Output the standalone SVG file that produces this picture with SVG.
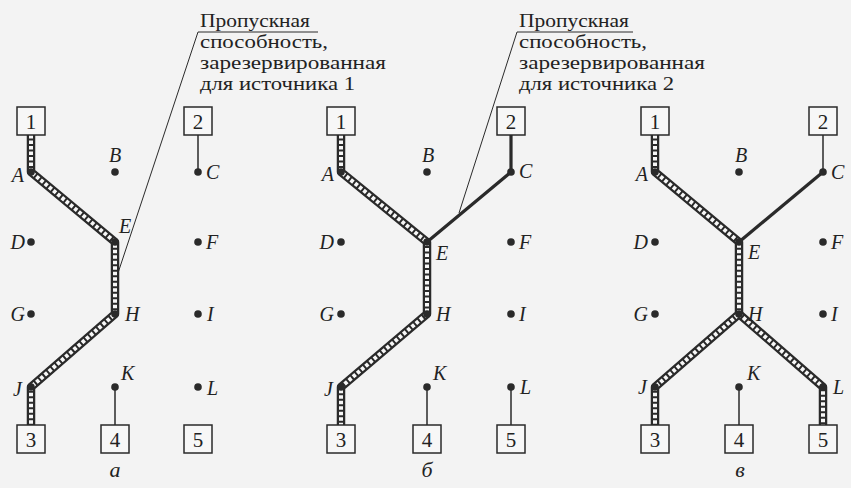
<svg xmlns="http://www.w3.org/2000/svg" width="851" height="488" viewBox="0 0 851 488">
<defs>
<style>
.bg{fill:#f3f3f3}
.box{fill:#f7f7f7;stroke:#2a2a2a;stroke-width:1.5}
.num{font-family:"Liberation Serif",serif;font-size:21px;fill:#222;text-anchor:middle}
.lbl{font-family:"Liberation Serif",serif;font-style:italic;font-size:20px;fill:#222}
.cap{font-family:"Liberation Serif",serif;font-size:19px;fill:#222}
.pl{font-family:"Liberation Serif",serif;font-style:italic;font-size:22px;fill:#222;text-anchor:middle}
.dot{fill:#2a2a2a}
.hatO{fill:none;stroke:#2a2a2a;stroke-width:8.5;stroke-linejoin:round}
.hatI{fill:none;stroke:#f7f7f7;stroke-width:4;stroke-dasharray:3.5 2}
.thin{fill:none;stroke:#2a2a2a;stroke-width:1.5}
.thick{fill:none;stroke:#2a2a2a;stroke-width:3.2;stroke-linejoin:round}
.lead{fill:none;stroke:#2a2a2a;stroke-width:1}
.e{text-anchor:end}
.m{text-anchor:middle}
</style>
</defs>
<rect class="bg" x="0" y="0" width="851" height="488"/>

<g id="connectors">
<!-- panel a -->
<path class="hatO" d="M31,135 L31,172 L115,242 L115,314 L31,387 L31,425"/>
<path class="hatI" d="M31,135 L31,172 L115,242 L115,314 L31,387 L31,425"/>
<path class="thin" d="M198,135 L198,172"/>
<path class="thin" d="M115,387 L115,425"/>
<!-- panel b -->
<path class="hatO" d="M341,135 L341,172 L427,242 L427,314 L341,387 L341,425"/>
<path class="hatI" d="M341,135 L341,172 L427,242 L427,314 L341,387 L341,425"/>
<path class="thick" d="M511,135 L511,172 L427,242"/>
<path class="thin" d="M427,387 L427,425"/>
<path class="thin" d="M511,387 L511,425"/>
<!-- panel c -->
<path class="hatO" d="M655,135 L655,172 L739,242 L739,314 L655,387 L655,425"/>
<path class="hatO" d="M739,314 L823,387 L823,425"/>
<path class="hatI" d="M655,135 L655,172 L739,242 L739,314 L655,387 L655,425"/>
<path class="hatI" d="M739,314 L823,387 L823,425"/>
<path class="thick" d="M823,172 L739,242"/>
<path class="thin" d="M823,135 L823,172"/>
<path class="thin" d="M739,387 L739,425"/>
<!-- leaders -->
<path class="lead" d="M318,32 L198,32 L118,273"/>
<path class="lead" d="M633,32 L517,32 L459,213"/>
</g>

<g id="caption1">
<text class="cap" x="200" y="27" textLength="110" lengthAdjust="spacingAndGlyphs">Пропускная</text>
<text class="cap" x="200" y="48" textLength="128" lengthAdjust="spacingAndGlyphs">способность,</text>
<text class="cap" x="200" y="69" textLength="186" lengthAdjust="spacingAndGlyphs">зарезервированная</text>
<text class="cap" x="200" y="90" textLength="155" lengthAdjust="spacingAndGlyphs">для источника 1</text>
</g>
<g id="caption2">
<text class="cap" x="519" y="27" textLength="110" lengthAdjust="spacingAndGlyphs">Пропускная</text>
<text class="cap" x="519" y="48" textLength="128" lengthAdjust="spacingAndGlyphs">способность,</text>
<text class="cap" x="519" y="69" textLength="186" lengthAdjust="spacingAndGlyphs">зарезервированная</text>
<text class="cap" x="519" y="90" textLength="155" lengthAdjust="spacingAndGlyphs">для источника 2</text>
</g>

<!-- Panel a nodes -->
<g id="a-1"><rect class="box" x="17" y="107" width="28" height="28"/><text class="num" x="31" y="129">1</text></g>
<g id="a-2"><rect class="box" x="184" y="107" width="28" height="28"/><text class="num" x="198" y="129">2</text></g>
<g id="a-A"><circle class="dot" cx="31" cy="172" r="3.8"/><text class="lbl e" x="24" y="182">A</text></g>
<g id="a-B"><circle class="dot" cx="115" cy="172" r="3.8"/><text class="lbl m" x="115" y="162">B</text></g>
<g id="a-C"><circle class="dot" cx="198" cy="172" r="3.8"/><text class="lbl" x="206" y="179">C</text></g>
<g id="a-D"><circle class="dot" cx="31" cy="242" r="3.8"/><text class="lbl e" x="25" y="249">D</text></g>
<g id="a-E"><circle class="dot" cx="115" cy="242" r="3.8"/><text class="lbl" x="119" y="233">E</text></g>
<g id="a-F"><circle class="dot" cx="198" cy="242" r="3.8"/><text class="lbl" x="206" y="249">F</text></g>
<g id="a-G"><circle class="dot" cx="31" cy="314" r="3.8"/><text class="lbl e" x="25" y="321">G</text></g>
<g id="a-H"><circle class="dot" cx="115" cy="314" r="3.8"/><text class="lbl" x="125" y="321">H</text></g>
<g id="a-I"><circle class="dot" cx="198" cy="314" r="3.8"/><text class="lbl" x="207" y="321">I</text></g>
<g id="a-J"><circle class="dot" cx="31" cy="387" r="3.8"/><text class="lbl e" x="22" y="396">J</text></g>
<g id="a-K"><circle class="dot" cx="115" cy="387" r="3.8"/><text class="lbl" x="121" y="380">K</text></g>
<g id="a-L"><circle class="dot" cx="198" cy="387" r="3.8"/><text class="lbl" x="207" y="395">L</text></g>
<g id="a-3"><rect class="box" x="17" y="425" width="28" height="28"/><text class="num" x="31" y="447">3</text></g>
<g id="a-4"><rect class="box" x="101" y="425" width="28" height="28"/><text class="num" x="115" y="447">4</text></g>
<g id="a-5"><rect class="box" x="184" y="425" width="28" height="28"/><text class="num" x="198" y="447">5</text></g>
<text class="pl" x="115" y="477">а</text>

<!-- Panel b nodes -->
<g id="b-1"><rect class="box" x="327" y="107" width="28" height="28"/><text class="num" x="341" y="129">1</text></g>
<g id="b-2"><rect class="box" x="497" y="107" width="28" height="28"/><text class="num" x="511" y="129">2</text></g>
<g id="b-A"><circle class="dot" cx="341" cy="172" r="3.8"/><text class="lbl e" x="334" y="181">A</text></g>
<g id="b-B"><circle class="dot" cx="427" cy="172" r="3.8"/><text class="lbl m" x="428" y="162">B</text></g>
<g id="b-C"><circle class="dot" cx="511" cy="172" r="3.8"/><text class="lbl" x="519" y="178">C</text></g>
<g id="b-D"><circle class="dot" cx="341" cy="242" r="3.8"/><text class="lbl e" x="334" y="249">D</text></g>
<g id="b-E"><circle class="dot" cx="427" cy="242" r="3.8"/><text class="lbl" x="436" y="260">E</text></g>
<g id="b-F"><circle class="dot" cx="511" cy="242" r="3.8"/><text class="lbl" x="519" y="249">F</text></g>
<g id="b-G"><circle class="dot" cx="341" cy="314" r="3.8"/><text class="lbl e" x="334" y="321">G</text></g>
<g id="b-H"><circle class="dot" cx="427" cy="314" r="3.8"/><text class="lbl" x="436" y="321">H</text></g>
<g id="b-I"><circle class="dot" cx="511" cy="314" r="3.8"/><text class="lbl" x="519" y="321">I</text></g>
<g id="b-J"><circle class="dot" cx="341" cy="387" r="3.8"/><text class="lbl e" x="333" y="396">J</text></g>
<g id="b-K"><circle class="dot" cx="427" cy="387" r="3.8"/><text class="lbl" x="433" y="380">K</text></g>
<g id="b-L"><circle class="dot" cx="511" cy="387" r="3.8"/><text class="lbl" x="520" y="394">L</text></g>
<g id="b-3"><rect class="box" x="327" y="425" width="28" height="28"/><text class="num" x="341" y="447">3</text></g>
<g id="b-4"><rect class="box" x="413" y="425" width="28" height="28"/><text class="num" x="427" y="447">4</text></g>
<g id="b-5"><rect class="box" x="497" y="425" width="28" height="28"/><text class="num" x="511" y="447">5</text></g>
<text class="pl" x="427" y="477">б</text>

<!-- Panel c nodes -->
<g id="c-1"><rect class="box" x="641" y="107" width="28" height="28"/><text class="num" x="655" y="129">1</text></g>
<g id="c-2"><rect class="box" x="809" y="107" width="28" height="28"/><text class="num" x="823" y="129">2</text></g>
<g id="c-A"><circle class="dot" cx="655" cy="172" r="3.8"/><text class="lbl e" x="648" y="181">A</text></g>
<g id="c-B"><circle class="dot" cx="739" cy="172" r="3.8"/><text class="lbl m" x="741" y="162">B</text></g>
<g id="c-C"><circle class="dot" cx="823" cy="172" r="3.8"/><text class="lbl" x="831" y="179">C</text></g>
<g id="c-D"><circle class="dot" cx="655" cy="242" r="3.8"/><text class="lbl e" x="648" y="249">D</text></g>
<g id="c-E"><circle class="dot" cx="739" cy="242" r="3.8"/><text class="lbl" x="748" y="259">E</text></g>
<g id="c-F"><circle class="dot" cx="823" cy="242" r="3.8"/><text class="lbl" x="831" y="249">F</text></g>
<g id="c-G"><circle class="dot" cx="655" cy="314" r="3.8"/><text class="lbl e" x="648" y="321">G</text></g>
<g id="c-H"><circle class="dot" cx="739" cy="314" r="3.8"/><text class="lbl" x="748" y="321">H</text></g>
<g id="c-I"><circle class="dot" cx="823" cy="314" r="3.8"/><text class="lbl" x="831" y="321">I</text></g>
<g id="c-J"><circle class="dot" cx="655" cy="387" r="3.8"/><text class="lbl e" x="647" y="394">J</text></g>
<g id="c-K"><circle class="dot" cx="739" cy="387" r="3.8"/><text class="lbl" x="747" y="380">K</text></g>
<g id="c-L"><circle class="dot" cx="823" cy="387" r="3.8"/><text class="lbl" x="833" y="394">L</text></g>
<g id="c-3"><rect class="box" x="641" y="425" width="28" height="28"/><text class="num" x="655" y="447">3</text></g>
<g id="c-4"><rect class="box" x="725" y="425" width="28" height="28"/><text class="num" x="739" y="447">4</text></g>
<g id="c-5"><rect class="box" x="809" y="425" width="28" height="28"/><text class="num" x="823" y="447">5</text></g>
<text class="pl" x="740" y="477">в</text>
</svg>
